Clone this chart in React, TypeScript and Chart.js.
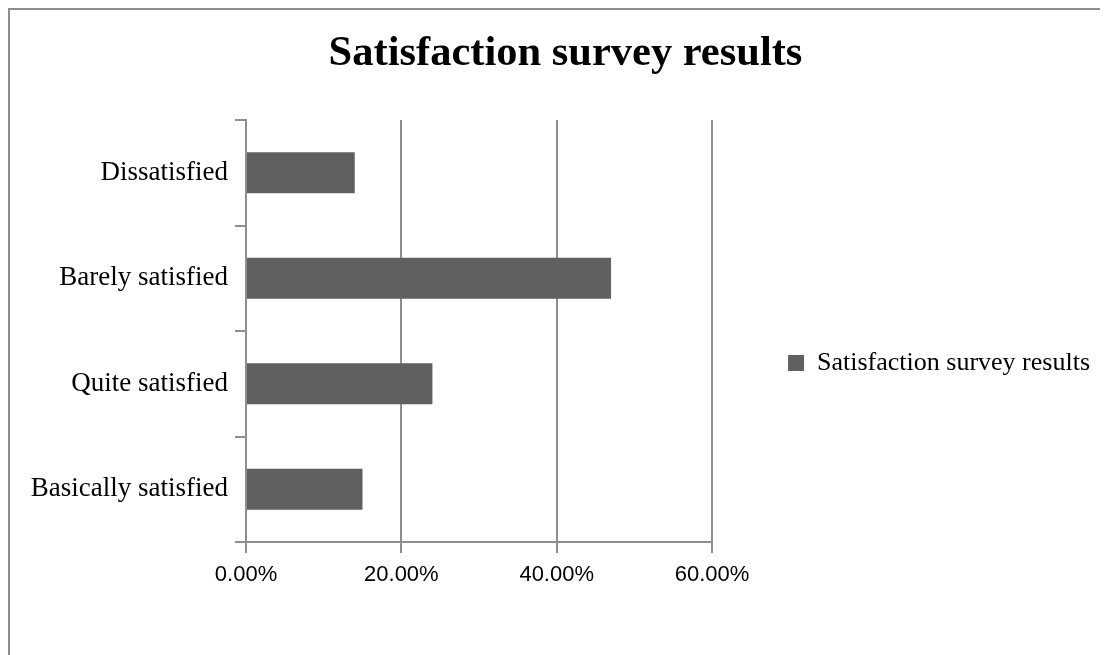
import React, { useEffect, useRef } from 'react';
import { Chart, registerables } from 'chart.js';

Chart.register(...registerables);

const chartTitle = 'Satisfaction survey results';
const seriesName = 'Satisfaction survey results';
const categories = ['Dissatisfied', 'Barely satisfied', 'Quite satisfied', 'Basically satisfied'];
const values = [14, 47, 24, 15];
const xTickValues = [0, 20, 40, 60];

const SERIF = "'Liberation Serif', 'Times New Roman', serif";
const SANS = "'Liberation Sans', Arial, sans-serif";
const GRID = '#8e8e8e';
const BAR = '#606060';
const CW = 1090;
const CH = 706;

export default function App() {
  const ref = useRef<HTMLCanvasElement>(null);
  useEffect(() => {
    const chart = new Chart(ref.current as HTMLCanvasElement, {
      type: 'bar',
      data: {
        labels: categories,
        datasets: [
          {
            label: seriesName,
            data: values,
            backgroundColor: BAR,
            borderWidth: 0,
            barPercentage: 0.39,
            categoryPercentage: 1,
          },
        ],
      },
      options: {
        indexAxis: 'y',
        responsive: false,
        animation: false,
        devicePixelRatio: 1,
        layout: { padding: { left: 21 } },
        plugins: {
          title: {
            display: true,
            text: chartTitle,
            color: '#000',
            font: { family: SERIF, size: 42.5, weight: 'bold', lineHeight: 1.2 },
            padding: { top: 19, bottom: 40 },
          },
          legend: {
            position: 'right',
            maxWidth: 520,
            labels: {
              color: '#000',
              font: { family: SERIF, size: 26 },
              boxWidth: 16,
              boxHeight: 16,
              padding: 76,
            },
          },
          tooltip: { enabled: false },
        },
        scales: {
          x: {
            min: xTickValues[0],
            max: xTickValues[xTickValues.length - 1],
            ticks: {
              stepSize: xTickValues[1] - xTickValues[0],
              callback: (v: any) => Number(v).toFixed(2) + '%',
              color: '#000',
              font: { family: SANS, size: 22 },
              padding: 9,
              maxRotation: 0,
            },
            grid: { color: GRID, lineWidth: 2, tickLength: 11 },
            border: { color: GRID, width: 2 },
            afterFit: (s: any) => {
              s.height = 174;
            },
          },
          y: {
            ticks: {
              color: '#000',
              font: { family: SERIF, size: 27 },
              padding: 7,
              autoSkip: false,
            },
            grid: { drawOnChartArea: false, offset: true, tickLength: 11, color: GRID, lineWidth: 2 },
            border: { color: GRID, width: 2 },
            afterFit: (s: any) => {
              s.width = 215;
            },
          },
        },
      },
    } as any);
    return () => chart.destroy();
  }, []);

  return (
    <div style={{ width: 1100, height: 647, overflow: 'hidden' }}>
      <div
        style={{
          width: 1130,
          height: 730,
          border: '2px solid #8e8e8e',
          boxSizing: 'border-box',
          background: '#fff',
        }}
      >
        <canvas ref={ref} width={CW} height={CH} style={{ display: 'block', width: CW, height: CH }} />
      </div>
    </div>
  );
}
